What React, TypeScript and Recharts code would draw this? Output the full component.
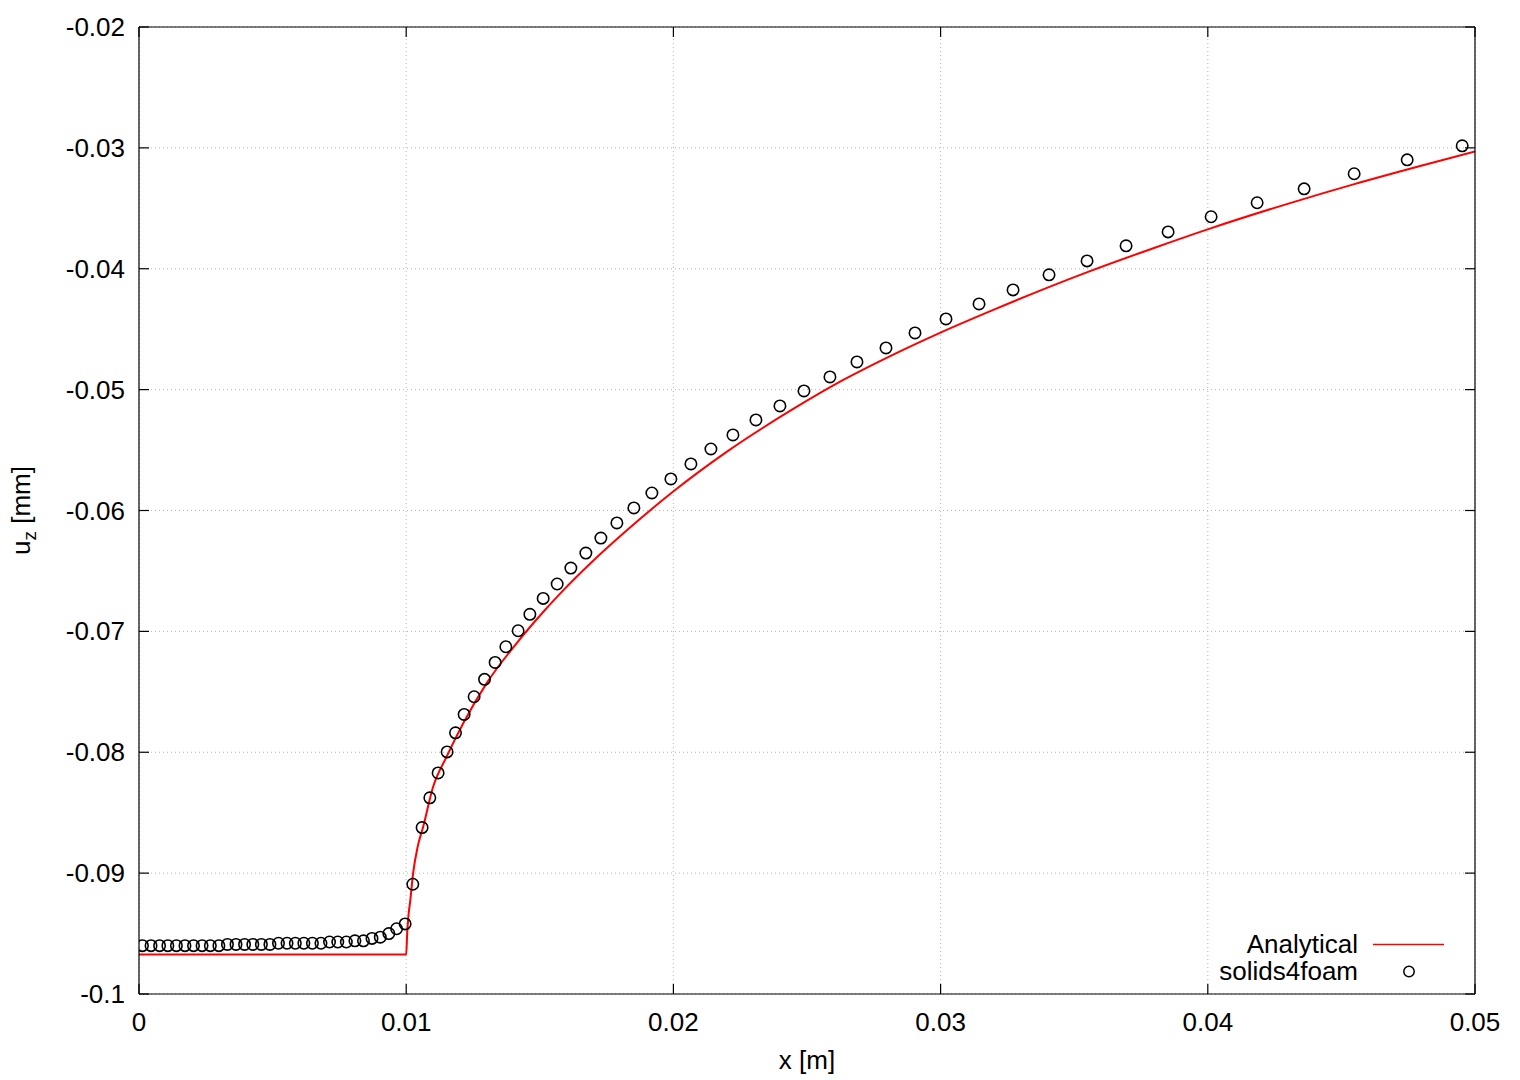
import { ComposedChart, Line, Scatter, XAxis, YAxis, CartesianGrid, Legend } from "recharts";

const FONT = "'Liberation Sans', Arial, Helvetica, sans-serif";
const FS = 26;

// solids4foam surface displacement
const SIM_X = [
  0.00013, 0.00045, 0.00077, 0.00108, 0.0014, 0.00172, 0.00204, 0.00236, 0.00267, 0.00299,
  0.00331, 0.00363, 0.00395, 0.00426, 0.00458, 0.0049, 0.00522, 0.00554, 0.00585, 0.00617,
  0.00649, 0.00681, 0.00713, 0.00744, 0.00776, 0.00808, 0.0084, 0.00872, 0.00903, 0.00935,
  0.00964, 0.00996,
  0.010247, 0.010595, 0.010884, 0.011194, 0.011531, 0.011846, 0.012168, 0.012542, 0.012932, 0.013328,
  0.013729, 0.014189, 0.014628, 0.015126, 0.01565, 0.016162, 0.016724, 0.017286, 0.017885, 0.018521,
  0.019195, 0.019906, 0.020655, 0.021404, 0.022228, 0.023089, 0.023987, 0.024886, 0.025859, 0.02687,
  0.027956, 0.029042, 0.030202, 0.031438, 0.032711, 0.034058, 0.035481, 0.036941, 0.038514, 0.040124,
  0.041846, 0.043605, 0.045477, 0.047462, 0.049521,
];
const SIM_Y = [
  -0.096, -0.096, -0.096, -0.096, -0.096, -0.096, -0.096, -0.096, -0.096, -0.096,
  -0.0959, -0.0959, -0.0959, -0.0959, -0.0959, -0.0959, -0.0958, -0.0958, -0.0958, -0.0958,
  -0.0958, -0.0958, -0.0957, -0.0957, -0.0957, -0.0956, -0.0956, -0.0954, -0.0953, -0.095,
  -0.0946, -0.0942,
  -0.09092, -0.08623, -0.08377, -0.08171, -0.07997, -0.07839, -0.07687, -0.07541, -0.07397, -0.07257,
  -0.07127, -0.06995, -0.06859, -0.06727, -0.06608, -0.06476, -0.06352, -0.06228, -0.06103, -0.05979,
  -0.05855, -0.05739, -0.05615, -0.05491, -0.05375, -0.05251, -0.05135, -0.05011, -0.04895, -0.04771,
  -0.04655, -0.04531, -0.04415, -0.04291, -0.04175, -0.0405, -0.03935, -0.0381, -0.03695, -0.0357,
  -0.03454, -0.03339, -0.03214, -0.03099, -0.02983,
];

// analytical curve
const ANA_X = [
  0, 0.01, 0.010034, 0.010079, 0.010154, 0.010258, 0.010434, 0.010633, 0.011007, 0.011509,
  0.01213, 0.013006, 0.01413, 0.015126, 0.015751, 0.016997, 0.018248, 0.019993, 0.021992, 0.024485,
  0.026357, 0.028229, 0.029977, 0.031973, 0.03547, 0.037963, 0.040022, 0.042958, 0.045451, 0.047948,
  0.05,
];
const ANA_Y = [
  -0.09674, -0.09674, -0.09514, -0.09365, -0.09224, -0.09003, -0.08777, -0.08618, -0.08286, -0.08038,
  -0.07762, -0.0743, -0.07099, -0.0684, -0.0669, -0.06416, -0.06166, -0.05843, -0.05515, -0.0516,
  -0.0492, -0.0471, -0.0453, -0.0434, -0.0403, -0.0383, -0.03672, -0.03465, -0.03302, -0.0315,
  -0.0303,
];

const X_TICKS = [0, 0.01, 0.02, 0.03, 0.04, 0.05];
const Y_TICKS = [-0.1, -0.09, -0.08, -0.07, -0.06, -0.05, -0.04, -0.03, -0.02];

const simData = SIM_X.map((x, i) => ({ x, y: SIM_Y[i] }));
const anaData = ANA_X.map((x, i) => ({ x, y: ANA_Y[i] }));

const TICK_LEN = 10;

function BottomTick({ x, y, payload }: any) {
  return (
    <g>
      <line x1={x} y1={y} x2={x} y2={y - TICK_LEN} stroke="#000" strokeWidth={1.2} />
      <text x={x} y={y + 37} textAnchor="middle" fontSize={FS} fontFamily={FONT} fill="#000">
        {String(payload.value)}
      </text>
    </g>
  );
}

function TopTick({ x, y }: any) {
  return <line x1={x} y1={y} x2={x} y2={y + TICK_LEN} stroke="#000" strokeWidth={1.2} />;
}

function LeftTick({ x, y, payload }: any) {
  return (
    <g>
      <line x1={x} y1={y} x2={x + TICK_LEN} y2={y} stroke="#000" strokeWidth={1.2} />
      <text x={x - 14} y={y + 9} textAnchor="end" fontSize={FS} fontFamily={FONT} fill="#000">
        {String(payload.value)}
      </text>
    </g>
  );
}

function RightTick({ x, y }: any) {
  return <line x1={x - TICK_LEN} y1={y} x2={x} y2={y} stroke="#000" strokeWidth={1.2} />;
}

function Ring({ cx, cy }: any) {
  return <circle cx={cx} cy={cy} r={5.7} fill="none" stroke="#000" strokeWidth={1.6} />;
}

function LegendBox() {
  const row = { display: "flex", alignItems: "center", height: 27 };
  const lab = { display: "inline-block", width: 158, textAlign: "right" as const };
  return (
    <div style={{ fontFamily: FONT, fontSize: FS, lineHeight: "27px", color: "#000" }}>
      <div style={row}>
        <span style={lab}>Analytical</span>
        <svg width={86} height={27}>
          <line x1={15} y1={13.5} x2={86} y2={13.5} stroke="#ff0000" strokeWidth={1.4} />
        </svg>
      </div>
      <div style={row}>
        <span style={lab}>solids4foam</span>
        <svg width={86} height={27}>
          <circle cx={51} cy={13.5} r={5.2} fill="none" stroke="#000" strokeWidth={1.5} />
        </svg>
      </div>
    </div>
  );
}

export default function App() {
  return (
    <div style={{ width: 1520, height: 1080, background: "#fff" }}>
      <style>{`body{margin:0}`}</style>
      <ComposedChart width={1520} height={1080} margin={{ top: 0, right: 0, bottom: 0, left: 0 }}>
        <CartesianGrid stroke="#b4b4b4" strokeDasharray="1 3" strokeWidth={1} />
        <XAxis
          type="number" dataKey="x" domain={[0, 0.05]} ticks={X_TICKS} interval={0}
          allowDataOverflow height={86} tickSize={0} tickMargin={0} tickLine={false}
          axisLine={{ stroke: "#000", strokeWidth: 1.2 }} tick={<BottomTick />}
          label={{
            content: ({ viewBox }: any) => (
              <text x={viewBox.x + viewBox.width / 2} y={viewBox.y + 75} textAnchor="middle"
                fontSize={FS} fontFamily={FONT} fill="#000">x [m]</text>
            ),
          }}
        />
        <XAxis
          xAxisId="top" orientation="top" type="number" dataKey="x" domain={[0, 0.05]} ticks={X_TICKS}
          interval={0} allowDataOverflow height={27} tickSize={0} tickMargin={0} tickLine={false}
          axisLine={{ stroke: "#000", strokeWidth: 1.2 }} tick={<TopTick />}
        />
        <YAxis
          type="number" dataKey="y" domain={[-0.1, -0.02]} ticks={Y_TICKS} interval={0}
          allowDataOverflow width={139} tickSize={0} tickMargin={0} tickLine={false}
          axisLine={{ stroke: "#000", strokeWidth: 1.2 }} tick={<LeftTick />}
          label={{
            content: ({ viewBox }: any) => {
              const cy = viewBox.y + viewBox.height / 2;
              return (
                <text x={30} y={cy} transform={`rotate(-90, 30, ${cy})`} textAnchor="middle"
                  fontSize={FS} fontFamily={FONT} fill="#000">
                  <tspan>u</tspan>
                  <tspan dy={6} fontSize={19}>z</tspan>
                  <tspan dy={-6}> [mm]</tspan>
                </text>
              );
            },
          }}
        />
        <YAxis
          yAxisId="right" orientation="right" type="number" dataKey="y" domain={[-0.1, -0.02]}
          ticks={Y_TICKS} interval={0} allowDataOverflow width={45} tickSize={0} tickMargin={0}
          tickLine={false} axisLine={{ stroke: "#000", strokeWidth: 1.2 }} tick={<RightTick />}
        />
        <Line
          data={anaData} dataKey="y" type="monotone" stroke="#ff0000" strokeWidth={2}
          dot={false} activeDot={false} isAnimationActive={false} name="Analytical"
        />
        <Scatter data={simData} dataKey="y" shape={<Ring />} isAnimationActive={false} name="solids4foam" />
        <Legend
          layout="vertical" align="center" verticalAlign="middle"
          content={() => <LegendBox />}
          wrapperStyle={{ left: 1200, top: 930.5, width: 260, height: 54 }}
        />
      </ComposedChart>
    </div>
  );
}
